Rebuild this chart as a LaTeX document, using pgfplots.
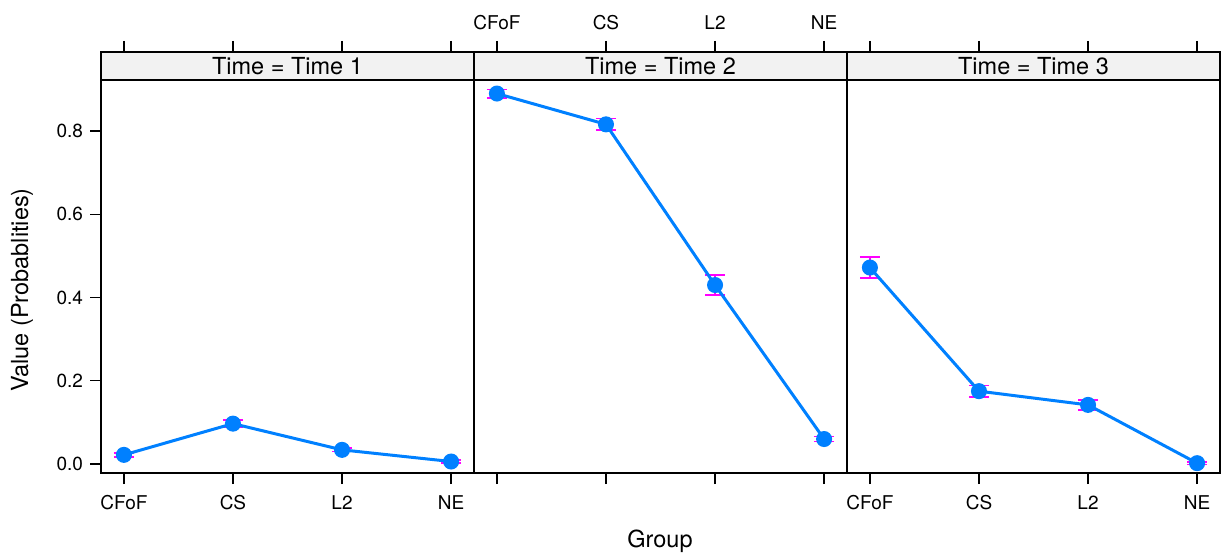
\documentclass[border=0pt]{standalone}
\usepackage{fontspec}
\setmainfont{TeX Gyre Heros}
\usepackage{pgfplots}
\pgfplotsset{compat=1.18}
\definecolor{latblue}{HTML}{0080FF}
\definecolor{latmag}{HTML}{FF00FF}
\definecolor{stripgray}{HTML}{F2F2F2}
\pgfplotsset{
  lattice/.style={
    scale only axis, width=186.5pt, height=210.5pt, anchor=south west,
    xmin=0.79, xmax=4.21, ymin=-0.0216, ymax=0.9898,
    xtick={1,2,3,4}, xticklabels={CFoF,CS,L2,NE},
    tick align=outside, major tick length=5.5pt,
    axis line style={line width=0.7pt}, tick style={line width=0.7pt, black},
    axis on top, clip=false,
    xtick pos=both,
    ticklabel style={font=\fontsize{9.5}{11}\selectfont},
    /pgf/number format/assume math mode=true,
    xticklabel style={inner sep=5.5pt},
  },
  errb/.style={draw=none, mark=none, forget plot,
    error bars/.cd, y dir=both, y explicit,
    error bar style={latmag, line width=0.8pt},
    error mark options={latmag, line width=0.8pt, mark size=5pt, rotate=90}},
  ser/.style={latblue, line width=1.5pt, mark=*, mark size=3.25pt,
    mark options={draw=none, fill=latblue}},
}
\newcommand{\strip}[1]{%
  \fill[stripgray] (axis cs:0.79,0.9225) rectangle (axis cs:4.21,0.9898);
  \draw[line width=0.7pt] (axis cs:0.79,0.9225) -- (axis cs:4.21,0.9225);
  \node[font=\fontsize{11.75}{13}\selectfont] at (axis cs:2.5,0.9561) {#1};}
\begin{document}
\begin{tikzpicture}
\useasboundingbox (0,0) rectangle (610.5pt,277pt);
% Panel 1
\begin{axis}[lattice, at={(50.5pt,40.5pt)},
  xticklabel pos=lower,
  ytick={0,0.2,0.4,0.6,0.8}, ytick pos=left,
  yticklabel style={/pgf/number format/fixed, /pgf/number format/fixed zerofill, /pgf/number format/precision=1}]
\strip{Time = Time 1}
\addplot[errb] coordinates {(1,0.022) +- (0,0.005) (2,0.097) +- (0,0.009) (3,0.034) +- (0,0.004) (4,0.006) +- (0,0.003)};
\addplot[ser] coordinates {(1,0.022) (2,0.097) (3,0.034) (4,0.006)};
\end{axis}
% Panel 2
\begin{axis}[lattice, at={(237pt,40.5pt)},
  xticklabel pos=upper, ytick=\empty]
\strip{Time = Time 2}
\addplot[errb] coordinates {(1,0.890) +- (0,0.010) (2,0.816) +- (0,0.014) (3,0.430) +- (0,0.024) (4,0.060) +- (0,0.006)};
\addplot[ser] coordinates {(1,0.890) (2,0.816) (3,0.430) (4,0.060)};
\end{axis}
% Panel 3
\begin{axis}[lattice, at={(423.5pt,40.5pt)},
  xticklabel pos=lower, ytick=\empty]
\strip{Time = Time 3}
\addplot[errb] coordinates {(1,0.472) +- (0,0.025) (2,0.175) +- (0,0.014) (3,0.142) +- (0,0.012) (4,0.002) +- (0,0.003)};
\addplot[ser] coordinates {(1,0.472) (2,0.175) (3,0.142) (4,0.002)};
\end{axis}
\node[font=\fontsize{11.75}{13}\selectfont] at (330pt,6.5pt) {Group};
\node[font=\fontsize{11.75}{13}\selectfont, rotate=90] at (11pt,132pt) {Value (Probablities)};
\end{tikzpicture}
\end{document}
